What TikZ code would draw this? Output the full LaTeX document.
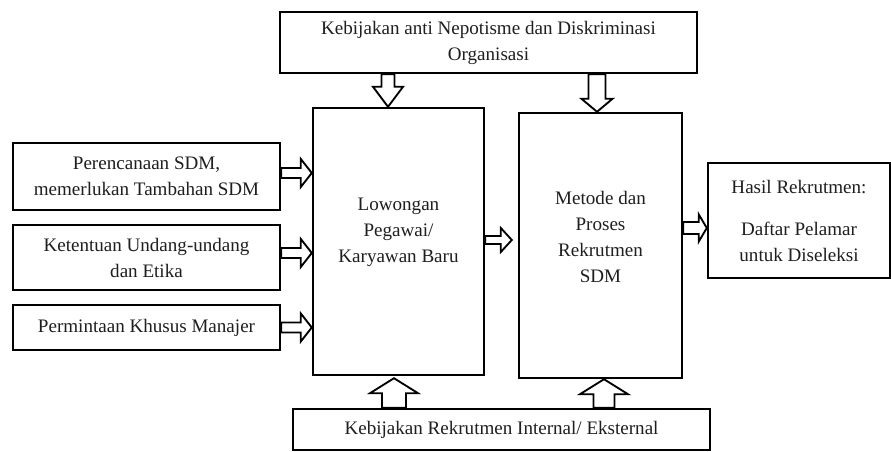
\documentclass[tikz,border=0pt]{standalone}
\usepackage{fontspec}
\setmainfont{Liberation Serif}
\usetikzlibrary{calc}
\tikzset{
  box/.style={draw=black, line width=1.8pt, fill=white, inner sep=0pt, align=center,
    font=\fontsize{14.3}{19.5}\selectfont, text=black!88},
  txt/.style={inner sep=0pt, align=center, font=\fontsize{14.3}{19.5}\selectfont, text=black!88},
  blk/.style={draw=black, line width=1.4pt, fill=white, line join=miter},
}
% right-pointing block arrow: start, end, shaft half, head half, head length (px)
\newcommand\rarrow[5]{%
  \draw[blk] let \p1=(#1), \p2=(#2) in
    (\x1,{\y1+#3*0.75pt}) -- ({\x2-#5*0.75pt},{\y1+#3*0.75pt}) --
    ({\x2-#5*0.75pt},{\y1+#4*0.75pt}) -- (\x2,\y1) --
    ({\x2-#5*0.75pt},{\y1-#4*0.75pt}) -- ({\x2-#5*0.75pt},{\y1-#3*0.75pt}) --
    (\x1,{\y1-#3*0.75pt}) -- cycle;}
% down-pointing block arrow
\newcommand\darrow[5]{%
  \draw[blk] let \p1=(#1), \p2=(#2) in
    ({\x1-#3*0.75pt},\y1) -- ({\x1-#3*0.75pt},{\y2+#5*0.75pt}) --
    ({\x1-#4*0.75pt},{\y2+#5*0.75pt}) -- (\x1,\y2) --
    ({\x1+#4*0.75pt},{\y2+#5*0.75pt}) -- ({\x1+#3*0.75pt},{\y2+#5*0.75pt}) --
    ({\x1+#3*0.75pt},\y1) -- cycle;}
% up-pointing block arrow
\newcommand\uarrow[5]{%
  \draw[blk] let \p1=(#1), \p2=(#2) in
    ({\x1-#3*0.75pt},\y1) -- ({\x1-#3*0.75pt},{\y2-#5*0.75pt}) --
    ({\x1-#4*0.75pt},{\y2-#5*0.75pt}) -- (\x1,\y2) --
    ({\x1+#4*0.75pt},{\y2-#5*0.75pt}) -- ({\x1+#3*0.75pt},{\y2-#5*0.75pt}) --
    ({\x1+#3*0.75pt},\y1) -- cycle;}
\begin{document}
\begin{tikzpicture}[x=0.75pt,y=-0.75pt]
\useasboundingbox[fill=white] (0,0) rectangle (891,452);

\node[box, minimum width=312.75pt, minimum height=45.75pt] (top) at (488.5,42.5)
  {Kebijakan anti Nepotisme dan Diskriminasi\\Organisasi};
\node[box, minimum width=128.25pt, minimum height=200.25pt] (low) at (398.5,241.5) {};
\node[txt] (lowt) at (398.5,232) {Lowongan\\Pegawai/\\Karyawan Baru};
\node[box, minimum width=122.25pt, minimum height=198.75pt] (met) at (600.5,245.5) {};
\node[txt] (mett) at (600.5,237) {Metode dan\\Proses\\Rekrutmen\\SDM};
\node[box, minimum width=136.5pt, minimum height=86.25pt] (has) at (799,220.5)
  {Hasil Rekrutmen:\\[12pt]Daftar Pelamar\\untuk Diseleksi};
\node[box, minimum width=312.75pt, minimum height=30.75pt] (bot) at (501.5,429.5)
  {Kebijakan Rekrutmen Internal/ Eksternal};
\node[box, minimum width=200.25pt, minimum height=50.25pt] (p1) at (146.5,176.5)
  {Perencanaan SDM,\\memerlukan Tambahan SDM};
\node[box, minimum width=200.25pt, minimum height=48.75pt] (p2) at (146.5,257.5)
  {Ketentuan Undang-undang\\dan Etika};
\node[box, minimum width=200.25pt, minimum height=33.75pt] (p3) at (146.5,327.5)
  {Permintaan Khusus Manajer};

% left inputs
\rarrow{[yshift=2.625pt]p1.east}{low.west}{5}{14}{11}
\rarrow{[yshift=3.375pt]p2.east}{low.west}{5}{14}{11}
\rarrow{p3.east}{low.west}{5}{14}{11}
% flow
\rarrow{[yshift=1.125pt]low.east}{[xshift=-4.5pt]met.west}{4}{12}{11}
\rarrow{[yshift=13.125pt]met.east}{has.west}{6}{13.5}{8}
% top arrows
\darrow{[xshift=-7.875pt]top.south -| low.north}{[xshift=-7.875pt]low.north}{6.5}{15}{20}
\darrow{[xshift=-2.625pt]top.south -| met.north}{[xshift=-2.625pt]met.north}{8.5}{15.5}{13}
% bottom arrows
\uarrow{[xshift=-3.375pt]bot.north -| low.south}{[xshift=-3.375pt,yshift=-1.5pt]low.south}{12}{24}{15}
\uarrow{[xshift=2.625pt]bot.north -| met.south}{[xshift=2.625pt]met.south}{10.5}{24}{15}
\end{tikzpicture}
\end{document}
